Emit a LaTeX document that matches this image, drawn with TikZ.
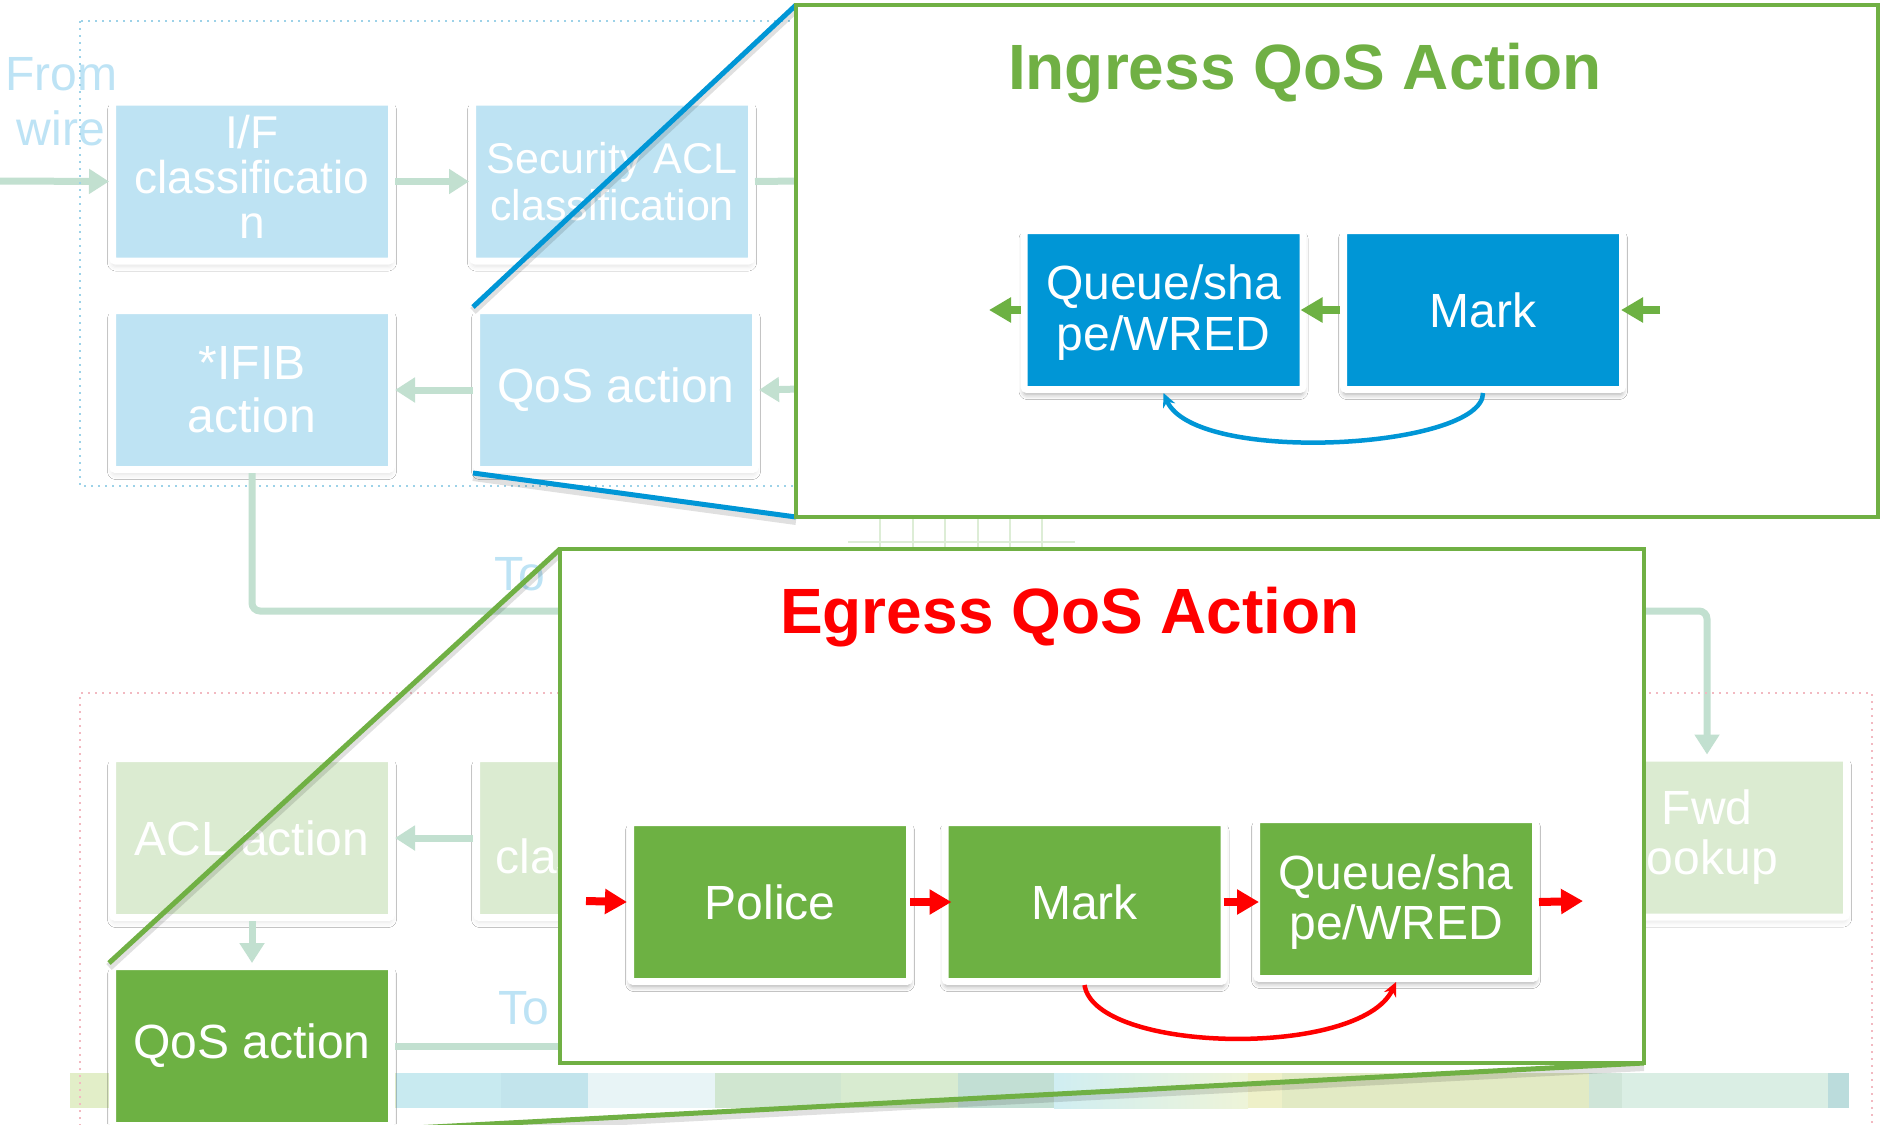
\documentclass[tikz,border=0pt]{standalone}
\usepackage{fontspec}
\setmainfont{Liberation Sans}
\usetikzlibrary{arrows.meta,shadows.blur}
\definecolor{lblue}{HTML}{BEE3F3}
\definecolor{ltext}{HTML}{BDE3F5}
\definecolor{pgline}{HTML}{C2E0D0}
\definecolor{pgbox}{HTML}{DBEBD1}
\definecolor{dblue}{HTML}{0096D6}
\definecolor{dgreen}{HTML}{6DB143}
\definecolor{bgreen}{HTML}{70B044}
\definecolor{dotblue}{HTML}{9DD2E8}
\definecolor{dotpink}{HTML}{F2B9C1}
\definecolor{gridg}{HTML}{DDEDD6}
\definecolor{sa}{HTML}{E2EEC8}
\definecolor{sb}{HTML}{C8EAF0}
\definecolor{sc}{HTML}{C2E4EC}
\definecolor{sd}{HTML}{E8F4F6}
\definecolor{se}{HTML}{D0E6D0}
\definecolor{sf}{HTML}{D8EBD0}
\definecolor{sg}{HTML}{C2DFD4}
\definecolor{sh}{HTML}{D0EEF2}
\definecolor{si}{HTML}{EEF4D8}
\definecolor{sj}{HTML}{EEF0C8}
\definecolor{sk}{HTML}{E2EAC4}
\definecolor{sl}{HTML}{CFE5D8}
\definecolor{sm}{HTML}{DAEEE4}
\definecolor{sn}{HTML}{BBDCDC}
\tikzset{
  shd/.style={blur shadow={shadow xshift=0pt,shadow yshift=-2.5pt,shadow blur radius=2.5pt,shadow opacity=#1}},
  blk/.style={draw=white, line width=3.5pt, rounded corners=1.5pt, minimum width=139.5pt,
    minimum height=79.5pt, inner sep=0pt, text=white, align=center,
    font=\fontsize{24pt}{26pt}\selectfont},
  lb/.style={blk, fill=lblue, shd=12},
  pb/.style={blk, fill=pgbox, shd=10},
  db/.style={blk, fill=dblue, shd=35},
  gb/.style={blk, fill=dgreen, shd=35},
  ltxt/.style={text=ltext, inner sep=0pt, font=\fontsize{24pt}{27.5pt}\selectfont},
  parrow/.style={draw=pgline, line width=3.5pt, -{Triangle[length=10pt,width=12pt]}},
  pline/.style={draw=pgline, line width=3.5pt},
  garrow/.style={draw=dgreen, line width=4pt, -{Triangle[length=11pt,width=12pt]}},
  rarrow/.style={draw=red, line width=4pt, -{Triangle[length=11pt,width=12pt]}},
  bigframe/.style={draw=bgreen, line width=2.25pt, fill=white, inner sep=0pt},
  title/.style={inner sep=0pt, anchor=base, font=\fontsize{32pt}{36pt}\selectfont\bfseries},
  zline/.style={line width=2.5pt},
  zshadow/.style={draw=black, opacity=0.12, line width=4pt, transform canvas={yshift=-2pt}},
}
\begin{document}
\begin{tikzpicture}[x=0.5pt,y=-0.5pt]
\useasboundingbox (0,0) rectangle (1882,1124);
\clip (0,0) rectangle (1882,1124);
\fill[white] (0,0) rectangle (1882,1124);

% ---------- background strip ----------
\fill[sa] (70,1073) rectangle (396,1108);
\fill[sb] (396,1073) rectangle (501,1108);
\fill[sc] (501,1073) rectangle (588,1108);
\fill[sd] (588,1073) rectangle (715,1108);
\fill[se] (715,1073) rectangle (841,1108);
\fill[sf] (841,1073) rectangle (958,1108);
\fill[sg] (958,1073) rectangle (1054,1108);
\shade[left color=sh, right color=si] (1054,1073) rectangle (1248,1108);
\fill[sj] (1248,1073) rectangle (1282,1108);
\fill[sk] (1282,1073) rectangle (1589,1108);
\fill[sl] (1589,1073) rectangle (1622,1108);
\fill[sm] (1622,1073) rectangle (1828,1108);
\fill[sn] (1828,1073) rectangle (1849,1108);

% ---------- faint grid ----------
\foreach \gx in {880,913,945,978,1010,1042}
  \draw[gridg, line width=1pt] (\gx,517) -- (\gx,552);
\draw[gridg, line width=1pt] (848,542) -- (1075,542);

% ---------- upper (ingress) diagram ----------
\node[ltxt, align=center] (from) at (61,102) {From\\wire};
\node[lb, font=\fontsize{23pt}{22.5pt}\selectfont] (ifc) at (252,181.5) {I/F\\classificatio\\n\rule[-5pt]{0pt}{0pt}};
\node[lb, font=\fontsize{21.5pt}{23.5pt}\selectfont] (sec) at (612,181.5) {Security ACL\\classification};
\node[lb, font=\fontsize{24pt}{26.5pt}\selectfont] (ifib) at (252,390) {*IFIB\\action};
\node[lb] (uqos) at (616,390) {QoS action};

\coordinate (wire) at (0,181);
\coordinate (secout) at (800,181);
\coordinate (qosin) at (800,389);
\draw[parrow] (wire) -- (ifc.west);
\draw[parrow] (ifc.east) -- (sec.west);
\draw[pline] (sec.east) -- (secout);
\draw[parrow] (qosin) -- (uqos.east);
\draw[parrow] (uqos.west) -- (ifib.east);

\draw[dotblue, line width=1pt, dash pattern=on 1pt off 2.5pt] (80,21) rectangle (1300,486);

% ---------- lower (egress) diagram ----------
\node[pb] (acl) at (252,838) {ACL action};
\node[pb] (cls) at (616,838) {};
\node[text=white, inner sep=0pt, anchor=base west, font=\fontsize{24pt}{26pt}\selectfont] (clst) at (495,873) {classification};
\node[pb, font=\fontsize{24pt}{25pt}\selectfont] (fwd) at (1707,837.5) {Fwd\\lookup};
\node[gb] (lqos) at (252,1046) {QoS action};

\node[ltxt, anchor=base west] (to1) at (494,590) {To};
\node[ltxt, anchor=base west] (to2) at (498,1024) {To};

\draw[pline, rounded corners=4pt, -{Triangle[length=10pt,width=12pt]}] (ifib.south) -- (252,611) -- (1707,611) -- (fwd.north);
\draw[parrow] (cls.west) -- (acl.east);
\draw[parrow] (acl.south) -- (lqos.north);
\coordinate (lqosout) at (600,1046);
\draw[pline] (lqos.east) -- (lqosout);

\draw[dotpink, line width=1pt, dash pattern=on 1pt off 2.5pt] (80,1140) -- (80,693) -- (1872,693) -- (1872,1140);

% ---------- ingress zoom ----------
\coordinate (ingNW) at (796,5);
\coordinate (ingSW) at (796,517);
\draw[zshadow] (uqos.north west) -- (ingNW);
\draw[zshadow] (uqos.south west) -- (ingSW);
\draw[zline, dblue] (uqos.north west) -- (ingNW);
\draw[zline, dblue] (uqos.south west) -- (ingSW);
\node[bigframe, minimum width=541pt, minimum height=256pt] (ing) at (1337,261) {};
\node[title, text=bgreen] (ingt) at (1305,89) {Ingress QoS Action};
\node[db, font=\fontsize{24pt}{25.5pt}\selectfont] (iq) at (1163.5,310) {\rule{0pt}{20pt}Queue/sha\\pe/WRED};
\node[db] (im) at (1483,310) {Mark};
\coordinate (iin) at (1660,310);
\coordinate (iout) at (989,310);
\draw[garrow, shorten >=-2.5pt] (iin) -- (im.east);
\draw[garrow, shorten >=-3pt] (im.west) -- (iq.east);
\draw[garrow] (iq.west) -- (iout);
\draw[dblue, line width=2.25pt, -{Stealth[length=7pt,width=6.5pt]}] (im.south) .. controls +(0,56) and +(31.5,72.5) .. (iq.south);

% ---------- egress zoom ----------
\coordinate (egNW) at (560,549);
\coordinate (egSE) at (1644,1063);
\draw[zshadow] (lqos.north west) -- (egNW);
\draw[zshadow] (lqos.south east) -- (egSE);
\draw[zline, bgreen] (lqos.north west) -- (egNW);
\draw[zline, bgreen] (lqos.south east) -- (egSE);
\node[bigframe, minimum width=542pt, minimum height=257pt] (egr) at (1102,806) {};
\node[title, text=red] (egrt) at (1070,633) {Egress QoS Action};
\node[gb] (ep) at (770,902) {Police};
\node[gb] (em) at (1084.5,902) {Mark};
\node[gb, font=\fontsize{24pt}{25pt}\selectfont] (eq) at (1396,899) {\rule{0pt}{20pt}Queue/sha\\pe/WRED};
\coordinate (ein) at (586,901);
\coordinate (eout) at (1583,901);
\draw[rarrow] (ein) -- (ep.west);
\draw[rarrow, shorten <=-1.5pt, shorten >=-5pt] (ep.east) -- (em.west);
\draw[rarrow, shorten <=-2pt, shorten >=-3pt] (em.east) -- (em.east -| eq.west);
\draw[rarrow] (eq.east |- em.east) -- (eout);
\draw[red, line width=2.25pt, -{Stealth[length=7pt,width=6.5pt]}] (em.south) .. controls +(10.5,68.5) and +(-36,76.5) .. (eq.south);
\end{tikzpicture}
\end{document}
